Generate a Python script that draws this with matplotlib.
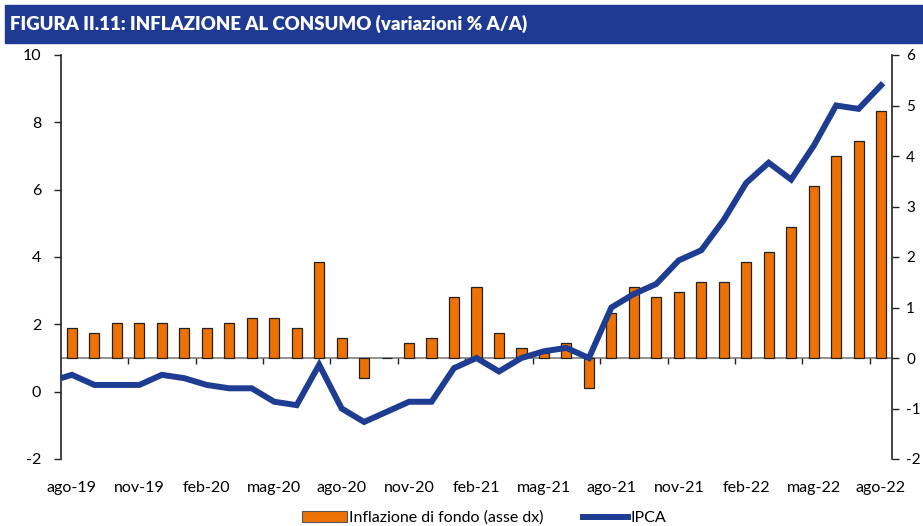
import matplotlib
matplotlib.use("Agg")
import matplotlib.pyplot as plt
import numpy as np
from matplotlib.patches import Rectangle
from matplotlib.lines import Line2D
from matplotlib.patches import Patch

months = ["lug-19", "ago-19", "set-19", "ott-19", "nov-19", "dic-19", "gen-20", "feb-20", "mar-20",
          "apr-20", "mag-20", "giu-20", "lug-20", "ago-20", "set-20", "ott-20", "nov-20",
          "dic-20", "gen-21", "feb-21", "mar-21", "apr-21", "mag-21", "giu-21", "lug-21",
          "ago-21", "set-21", "ott-21", "nov-21", "dic-21", "gen-22", "feb-22", "mar-22",
          "apr-22", "mag-22", "giu-22", "lug-22", "ago-22"]

core = [np.nan, 0.6, 0.5, 0.7, 0.7, 0.7, 0.6, 0.6, 0.7, 0.8, 0.8, 0.6, 1.9,
        0.4, -0.4, 0.0, 0.3, 0.4, 1.2, 1.4, 0.5, 0.2, 0.1, 0.3, -0.6,
        0.9, 1.4, 1.2, 1.3, 1.5, 1.5, 1.9, 2.1, 2.6, 3.4, 4.0, 4.3, 4.9]

ipca = [0.3, 0.5, 0.2, 0.2, 0.2, 0.5, 0.4, 0.2, 0.1, 0.1, -0.3, -0.4, 0.8,
        -0.5, -0.9, -0.6, -0.3, -0.3, 0.7, 1.0, 0.6, 1.0, 1.2, 1.3, 1.0,
        2.5, 2.9, 3.2, 3.9, 4.2, 5.1, 6.2, 6.8, 6.3, 7.3, 8.5, 8.4, 9.1]

label_months = months[1::3]

left_ticks = [-2, 0, 2, 4, 6, 8, 10]
right_ticks = [-2, -1, 0, 1, 2, 3, 4, 5, 6]

title = "FIGURA II.11: INFLAZIONE AL CONSUMO (variazioni % A/A)"

BLUE = "#1F3C93"
ORANGE = "#EE7203"
FONT = ["Lato", "DejaVu Sans"]
plt.rcParams['font.family'] = FONT

W, H = 923, 526
fig = plt.figure(figsize=(W / 100, H / 100), dpi=100)

# title banner
fig.patches.append(Rectangle((5 / W, 1 - 43 / H), 1 - 5 / W, 38 / H,
                             transform=fig.transFigure, color="#1F3A93", zorder=0))
fig.text(10 / W, 1 - 24 / H, title, color="white", fontsize=13.4, fontweight="heavy",
         family=["Lato", "DejaVu Sans"], va="center", ha="left")

ax = fig.add_axes([60.7 / W, 1 - 459 / H, (892.3 - 60.7) / W, (459 - 55) / H])
ax2 = ax.twinx()

x = np.arange(len(months))

ax2.bar(x, core, width=0.45, color=ORANGE, edgecolor="#222222", linewidth=0.9, zorder=2)
ax.plot(x, ipca, color=BLUE, linewidth=4.3, solid_joinstyle="miter", zorder=3, clip_on=True)

ax.set_zorder(ax2.get_zorder() + 1)
ax.patch.set_visible(False)

ax.set_xlim(0.5, len(months) - 0.5)
ax.set_ylim(-2, 10)
ax2.set_ylim(-2, 6)

ax.set_yticks(left_ticks)
ax.set_yticklabels([str(v) for v in left_ticks])
ax2.set_yticks(right_ticks)
ax2.set_yticklabels([str(v) for v in right_ticks])

ax.set_xticks(x[1::3])
ax.set_xticklabels(label_months)
ax.tick_params(axis="x", length=0, pad=16, labelsize=11.5)
ax.tick_params(axis="y", direction="out", length=5, width=1, labelsize=11.5, pad=9, color="#222222")
ax2.tick_params(axis="y", direction="out", length=5, width=1, labelsize=11, pad=5, color="#222222")

for a in (ax, ax2):
    a.spines["top"].set_visible(False)
    a.spines["bottom"].set_visible(False)
ax.spines["right"].set_visible(False)
ax2.spines["left"].set_visible(False)
ax.spines["left"].set_color("#222222")
ax2.spines["right"].set_color("#222222")
ax2.spines["right"].set_linewidth(1.2)
ax.spines["left"].set_linewidth(1.2)

# horizontal axis at right-axis zero with category-boundary ticks
ax2.axhline(0, color="#7f7f7f", linewidth=1.2, zorder=1)
bounds = np.arange(3.5, len(months) - 0.5, 3)
ax2.vlines(bounds, -0.12, 0, color="#222222", linewidth=1, zorder=1)

handles = [Patch(facecolor=ORANGE, edgecolor="#555555", linewidth=0.8),
           Line2D([0], [0], color=BLUE, linewidth=4.3)]
fig.legend(handles, ["Inflazione di fondo (asse dx)", "IPCA"], loc="center",
           bbox_to_anchor=(484 / W, 1 - 518 / H), ncol=2, frameon=False, fontsize=11.5,
           handlelength=2.8, handletextpad=0.15, columnspacing=2.5)

fig.savefig("out.png", dpi=100)
